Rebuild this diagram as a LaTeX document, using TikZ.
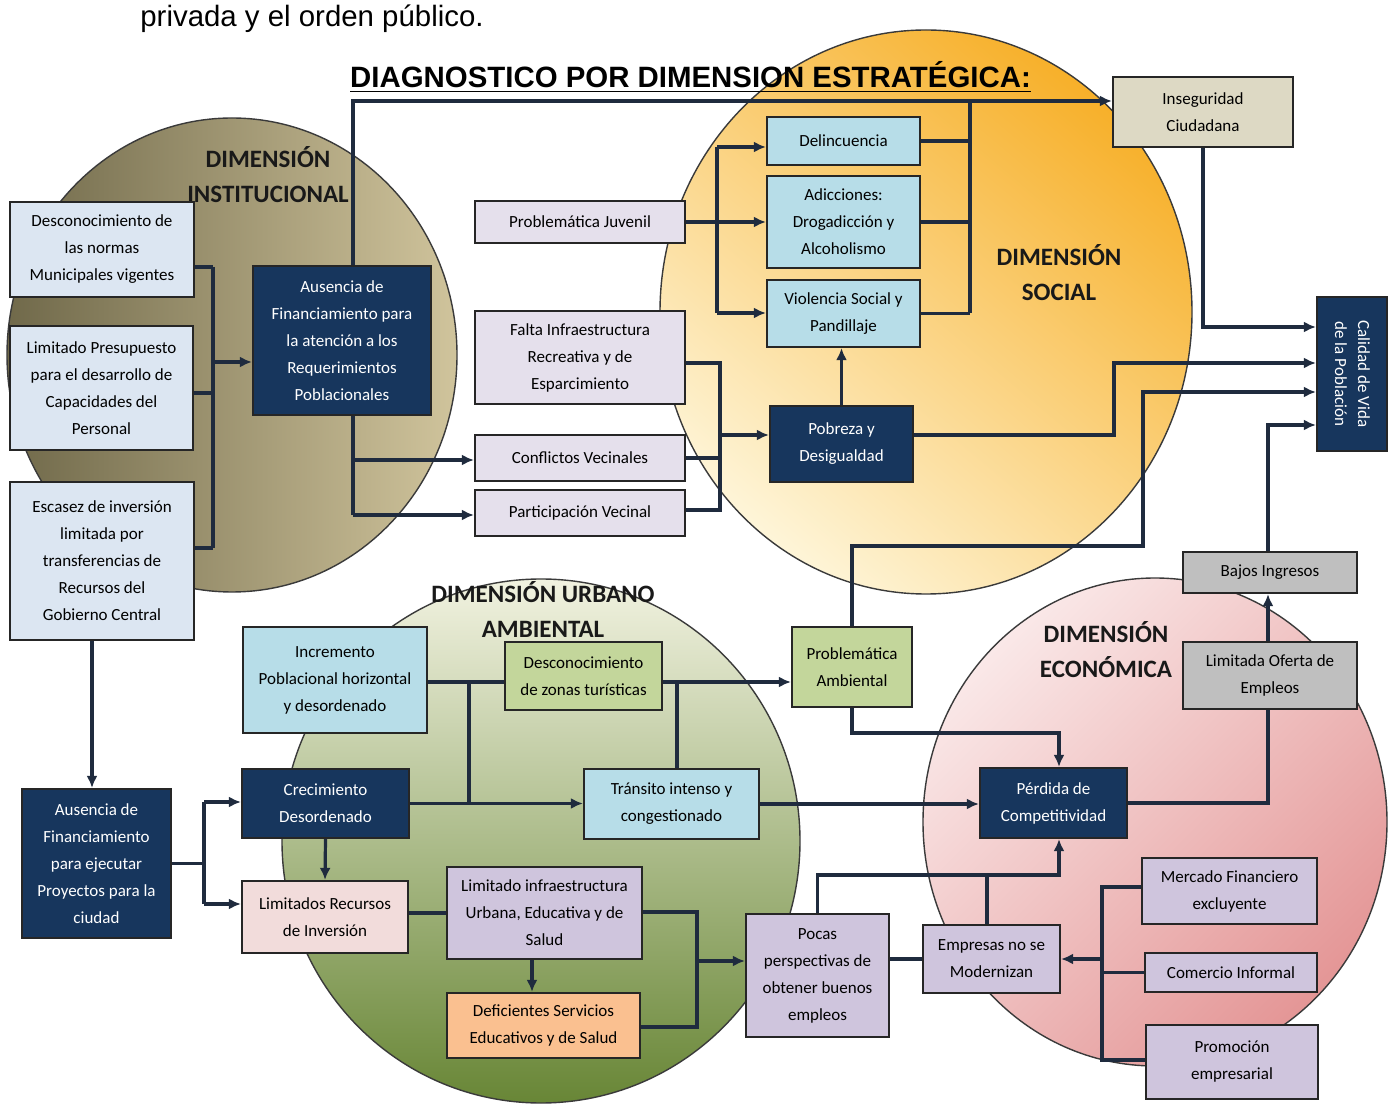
\documentclass[tikz,border=0pt]{standalone}
\usepackage{fontspec}
\usepackage{graphicx}
\setmainfont{Carlito}
\newfontfamily\arialf{Liberation Sans}
\usetikzlibrary{arrows.meta,calc}
\definecolor{navyc}{HTML}{17365D}
\definecolor{lblue}{HTML}{B7DDE8}
\definecolor{lgb}{HTML}{DCE6F2}
\definecolor{lavA}{HTML}{E5E0EC}
\definecolor{lavB}{HTML}{CFC5DD}
\definecolor{beigeb}{HTML}{DDD9C4}
\definecolor{grayb}{HTML}{BFBFBF}
\definecolor{greenb}{HTML}{C3D69B}
\definecolor{pinkb}{HTML}{F2DCDB}
\definecolor{orangeb}{HTML}{FAC090}
\definecolor{linec}{HTML}{1F2B3E}
\definecolor{circ}{HTML}{3A3A3A}
\definecolor{instL}{RGB}{112,105,74}
\definecolor{instR}{RGB}{208,196,156}
\definecolor{socT}{RGB}{247,176,42}
\definecolor{socB}{RGB}{254,245,216}
\definecolor{urbT}{RGB}{241,242,224}
\definecolor{urbB}{RGB}{104,134,54}
\definecolor{ecoT}{RGB}{250,232,232}
\definecolor{ecoB}{RGB}{228,150,150}
\newcommand\mkbox[7]{\node[#1, minimum width={(#5-#3)*0.5pt}, minimum height={(#6-#4)*0.5pt}] (#2) at ({(#3+#5)/2},{(#4+#6)/2}) {#7};}
\tikzset{
  bx/.style={draw=black!85, line width=1.1pt, inner sep=1pt, align=center, text=black,
    font=\fontsize{8.5}{13.5}\selectfont},
  navybx/.style={bx, fill=navyc, text=white},
  lbluebx/.style={bx, fill=lblue},
  lgbbx/.style={bx, fill=lgb},
  lavAbx/.style={bx, fill=lavA},
  lavBbx/.style={bx, fill=lavB},
  beigebx/.style={bx, fill=beigeb},
  graybx/.style={bx, fill=grayb},
  greenbx/.style={bx, fill=greenb},
  pinkbx/.style={bx, fill=pinkb},
  orangebx/.style={bx, fill=orangeb},
  dimlab/.style={align=center, text=black!90, font=\fontsize{12.5}{17.5}\selectfont\bfseries},
  conn/.style={draw=linec, line width=1.6pt},
  arr/.style={conn, -{Latex[length=6pt,width=5.5pt]}},
  circle line/.style={draw=circ, line width=0.7pt}
}
\begin{document}
\begin{tikzpicture}[x=0.5pt,y=-0.5pt]
\useasboundingbox (0,0) rectangle (1393,1106);
\fill[white] (0,0) rectangle (1393,1106);
\begin{scope}
\clip (0,0) rectangle (1393,1106);
\path[circle line, left color=instL, right color=instR] (232,355) ellipse [x radius=112.5pt, y radius=118.5pt];
\path[circle line, top color=socT, bottom color=socB, shading angle=-40] (926,312) ellipse [x radius=133pt, y radius=141pt];
\path[circle line, top color=urbT, bottom color=urbB] (541,841) ellipse [x radius=129.5pt, y radius=131pt];
\path[circle line, top color=ecoT, bottom color=ecoB, shading angle=45] (1155,822) ellipse [x radius=116pt, y radius=122pt];
\end{scope}

% header and title
\node[font=\arialf\fontsize{14.7}{17}\selectfont, anchor=base west, inner sep=0pt] (hdr) at (140,27) {privada y el orden público.};
\node[font=\arialf\fontsize{14.7}{17}\selectfont\bfseries, anchor=base, inner sep=0pt] (title) at (690.5,88) {\underline{DIAGNOSTICO POR DIMENSION ESTRATÉGICA:}};

% dimension labels
\node[dimlab] (lInst) at (268,175) {DIMENSIÓN\\INSTITUCIONAL};
\node[dimlab] (lSoc) at (1059,273) {DIMENSIÓN\\SOCIAL};
\node[dimlab] (lUrb) at (543,610) {DIMENSIÓN URBANO\\AMBIENTAL};
\node[dimlab] (lEco) at (1106,650) {DIMENSIÓN\\ECONÓMICA};

% boxes
\mkbox{lgbbx}{b1}{10}{202}{194}{297}{Desconocimiento de\\las normas\\Municipales vigentes}
\mkbox{lgbbx}{b2}{10}{326}{193}{450}{Limitado Presupuesto\\para el desarrollo de\\Capacidades del\\Personal}
\mkbox{lgbbx}{b3}{10}{482}{194}{640}{Escasez de inversión\\limitada por\\transferencias de\\Recursos del\\Gobierno Central}
\mkbox{navybx}{b4}{253}{266}{431}{415}{Ausencia de\\Financiamiento para\\la atención a los\\Requerimientos\\Poblacionales}
\mkbox{lavAbx}{juv}{475}{201}{685}{243}{Problemática Juvenil}
\mkbox{lavAbx}{falta}{475}{311}{685}{404}{Falta Infraestructura\\Recreativa y de\\Esparcimiento}
\mkbox{lavAbx}{conf}{475}{435}{685}{481}{Conflictos Vecinales}
\mkbox{lavAbx}{part}{475}{490}{685}{536}{Participación Vecinal}
\mkbox{lbluebx}{delinc}{767}{117}{920}{165}{Delincuencia}
\mkbox{lbluebx}{adic}{767}{176}{920}{268}{Adicciones:\\Drogadicción y\\Alcoholismo}
\mkbox{lbluebx}{viol}{767}{280}{920}{347}{Violencia Social y\\Pandillaje}
\mkbox{navybx}{pob}{770}{406}{913}{482}{Pobreza y\\Desigualdad}
\mkbox{beigebx}{insec}{1113}{77}{1293}{147}{Inseguridad\\Ciudadana}
\mkbox{navybx}{cal}{1317}{297}{1387}{451}{\rotatebox{-90}{\begin{tabular}{@{}c@{}}Calidad de Vida\\[-2pt]de la Población\end{tabular}}}
\mkbox{graybx}{bajos}{1183}{552}{1357}{593}{Bajos Ingresos}
\mkbox{graybx}{lim}{1183}{642}{1357}{709}{Limitada Oferta de\\Empleos}
\mkbox{greenbx}{pamb}{792}{627}{912}{707}{Problemática\\Ambiental}
\mkbox{lbluebx}{inc}{243}{627}{427}{733}{Incremento\\Poblacional horizontal\\y desordenado}
\mkbox{greenbx}{dzt}{505}{642}{662}{710}{Desconocimiento\\de zonas turísticas}
\mkbox{lbluebx}{trans}{584}{769}{759}{839}{Tránsito intenso y\\congestionado}
\mkbox{navybx}{crec}{242}{769}{409}{838}{Crecimiento\\Desordenado}
\mkbox{pinkbx}{lrec}{242}{881}{408}{953}{Limitados Recursos\\de Inversión}
\mkbox{lavBbx}{linf}{447}{867}{642}{959}{Limitado infraestructura\\Urbana, Educativa y de\\Salud}
\mkbox{orangebx}{def}{447}{993}{640}{1058}{Deficientes Servicios\\Educativos y de Salud}
\mkbox{navybx}{aus2}{22}{789}{171}{938}{Ausencia de\\Financiamiento\\para ejecutar\\Proyectos para la\\ciudad}
\mkbox{lavBbx}{pocas}{746}{914}{889}{1037}{Pocas\\perspectivas de\\obtener buenos\\empleos}
\mkbox{lavBbx}{emp}{923}{925}{1060}{993}{Empresas no se\\Modernizan}
\mkbox{navybx}{perd}{980}{768}{1127}{838}{Pérdida de\\Competitividad}
\mkbox{lavBbx}{merc}{1142}{858}{1317}{924}{Mercado Financiero\\excluyente}
\mkbox{lavBbx}{com}{1145}{953}{1317}{992}{Comercio Informal}
\mkbox{lavBbx}{prom}{1146}{1025}{1318}{1099}{Promoción\\empresarial}

% connectors: institucional
\coordinate (a1) at (213,267);
\coordinate (a2) at (213,393);
\coordinate (a3) at (213,548);
\coordinate (a4) at (213,362);
\draw[conn] (b1.east |- a1) -- (a1);
\draw[conn] (b2.east |- a2) -- (a2);
\draw[conn] (b3.east |- a3) -- (a3);
\draw[conn] (a1) -- (a3);
\draw[arr] (a4) -- (b4.west |- a4);
\coordinate (t1) at (353,101);
\draw[arr] (b4.north -| t1) -- (t1) -- (insec.west |- t1);
\coordinate (c1) at (353,515);
\coordinate (c2) at (353,460);
\draw[conn] (b4.south -| c1) -- (c1);
\draw[arr] (c2) -- (conf.west |- c2);
\draw[arr] (c1) -- (part.west |- c1);

% social
\coordinate (d1) at (717,147);
\coordinate (d2) at (717,313);
\draw[conn] (juv.east) -- (juv.east -| d1);
\draw[conn] (d1) -- (d2);
\draw[arr] (d1) -- (delinc.west |- d1);
\draw[arr] (adic.west -| d1) -- (adic.west);
\draw[arr] (d2) -- (viol.west |- d2);
\coordinate (e1) at (720,363);
\coordinate (e2) at (720,510);
\coordinate (e3) at (720,435);
\draw[conn] (falta.east |- e1) -- (e1) -- (e2) -- (part.east |- e2);
\draw[conn] (conf.east) -- (conf.east -| e1);
\draw[arr] (e3) -- (pob.west |- e3);
\draw[arr] (pob.north) -- (pob.north |- viol.south);
\coordinate (f1) at (970,101);
\coordinate (f2) at (970,313);
\draw[conn] (delinc.east) -- (delinc.east -| f1);
\draw[conn] (adic.east) -- (adic.east -| f1);
\draw[conn] (viol.east) -- (viol.east -| f1);
\draw[conn] (f1) -- (f2);

% to calidad de vida
\coordinate (g1) at (1203,327);
\draw[arr] (insec.south) -- (insec.south |- g1) -- (cal.west |- g1);
\coordinate (h0) at (1114,435);
\coordinate (h1) at (1114,363);
\draw[arr] (pob.east |- h0) -- (h0) -- (h1) -- (cal.west |- h1);
\coordinate (j1) at (1143,546);
\coordinate (j2) at (1143,392);
\draw[arr] (pamb.north) -- (pamb.north |- j1) -- (j1) -- (j2) -- (cal.west |- j2);
\coordinate (k1) at (1268,425);
\coordinate (k2) at (1268,803);
\draw[arr] (bajos.north -| k1) -- (k1) -- (cal.west |- k1);
\draw[arr] (lim.north -| k1) -- (bajos.south -| k1);
\draw[conn] (perd.east |- k2) -- (k2) -- (lim.south -| k2);

% economica
\coordinate (m1) at (1059,733);
\draw[arr] (pamb.south) -- (pamb.south |- m1) -- (m1) -- (perd.north -| m1);
\draw[arr] (trans.east) -- (perd.west |- trans.east);
\coordinate (n1) at (1059,875);
\coordinate (n2) at (987,875);
\draw[arr] (pocas.north) -- (pocas.north |- n1) -- (n1) -- (perd.south -| n1);
\draw[conn] (emp.north -| n2) -- (n2);
\draw[conn] (pocas.east |- emp.west) -- (emp.west);
\coordinate (p1) at (1102,887);
\coordinate (p2) at (1102,1060);
\draw[conn] (merc.west |- p1) -- (p1) -- (p2) -- (prom.west |- p2);
\draw[conn] (com.west) -- (com.west -| p1);
\draw[arr] (emp.east -| p1) -- (emp.east);

% urbano ambiental
\coordinate (q1) at (469,682);
\coordinate (q2) at (677,682);
\draw[conn] (inc.east |- q1) -- (dzt.west |- q1);
\draw[arr] (dzt.east |- q1) -- (pamb.west |- q1);
\draw[conn] (q1) -- (q1 |- crec.east);
\draw[conn] (q2) -- (trans.north -| q2);
\draw[arr] (crec.east) -- (trans.west |- crec.east);
\draw[arr] (crec.south) -- (lrec.north);
\coordinate (s1) at (204,802);
\coordinate (s2) at (204,904);
\draw[conn] (aus2.east) -- (aus2.east -| s1);
\draw[conn] (s1) -- (s2);
\draw[arr] (s1) -- (crec.west |- s1);
\draw[arr] (s2) -- (lrec.west |- s2);
\coordinate (u1) at (92,700);
\draw[arr] (b3.south -| u1) -- (aus2.north -| u1);
\draw[conn] (lrec.east |- linf.west) -- (linf.west);
\coordinate (w1) at (532,975);
\draw[arr] (linf.south -| w1) -- (def.north -| w1);
\coordinate (x1) at (697,912);
\coordinate (x2) at (697,1027);
\coordinate (x3) at (697,961);
\draw[conn] (linf.east |- x1) -- (x1) -- (x2) -- (def.east |- x2);
\draw[arr] (x3) -- (pocas.west |- x3);
\end{tikzpicture}
\end{document}
